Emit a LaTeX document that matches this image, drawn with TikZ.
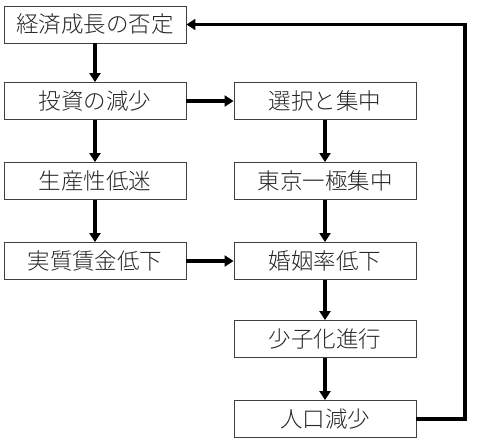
\documentclass[tikz,border=0pt]{standalone}
\usepackage{fontspec}
\newfontfamily\cjk{Noto Sans CJK JP Light}
\usetikzlibrary{arrows.meta}
\begin{document}
\begin{tikzpicture}[x=1pt,y=-1pt,
  box/.style={draw=black!75, line width=0.9pt, minimum width=182pt, minimum height=37pt, inner sep=0pt, font=\cjk\fontsize{22.5}{24}\selectfont, text=black!85, fill=white},
  arr/.style={line width=3.2pt, -{Triangle[length=9pt,width=11pt]}},
  ln/.style={line width=3.2pt}]
\useasboundingbox (0,0) rectangle (480,441);
\node[box] (a) at (95,24.5) {経済成長の否定};
\node[box] (b) at (95,101) {投資の減少};
\node[box] (c) at (95,181) {生産性低迷};
\node[box] (d) at (95,261) {実質賃金低下};
\node[box] (e) at (325,101) {選択と集中};
\node[box] (f) at (325,181) {東京一極集中};
\node[box] (g) at (325,261) {婚姻率低下};
\node[box] (h) at (325,339) {少子化進行};
\node[box] (i) at (325,419) {人口減少};
\coordinate (r1) at (465,419);
\coordinate (r2) at (465,24.5);
\draw[arr] (a) -- (b);
\draw[arr] (b) -- (c);
\draw[arr] (c) -- (d);
\draw[arr] (b) -- (e);
\draw[arr] (d) -- (g);
\draw[arr] (e) -- (f);
\draw[arr] (f) -- (g);
\draw[arr] (g) -- (h);
\draw[arr] (h) -- (i);
\draw[arr, line join=miter] (i.east) -- (r1) -- (r2) -- (a.east);
\end{tikzpicture}
\end{document}
